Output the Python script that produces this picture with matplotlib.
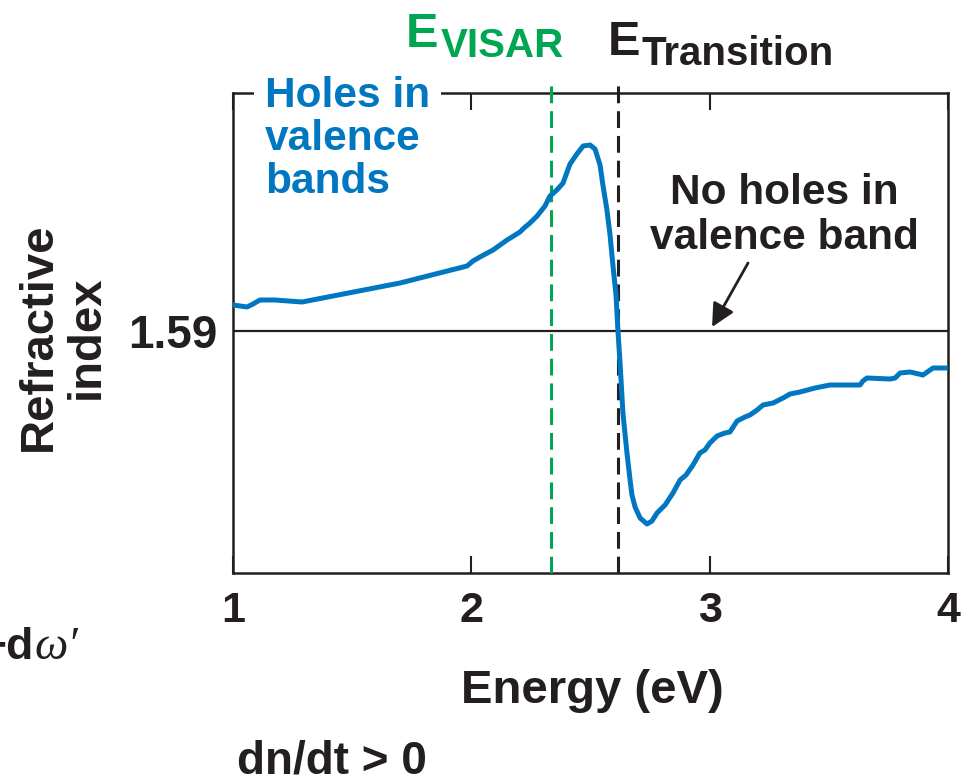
import matplotlib
matplotlib.use("Agg")
import matplotlib.pyplot as plt

# refractive index vs photon energy
energy = [1.000, 1.059, 1.084, 1.113, 1.176, 1.290, 1.701, 1.982, 2.007, 2.036,
          2.091, 2.150, 2.204, 2.221, 2.246, 2.276, 2.309, 2.330, 2.359, 2.385,
          2.397, 2.414, 2.443, 2.469, 2.498, 2.519, 2.540, 2.552, 2.569, 2.582,
          2.594, 2.607, 2.615, 2.624, 2.636, 2.653, 2.666, 2.674, 2.687, 2.708,
          2.737, 2.758, 2.779, 2.813, 2.846, 2.876, 2.901, 2.930, 2.959, 2.980,
          3.001, 3.031, 3.064, 3.085, 3.115, 3.148, 3.169, 3.199, 3.224, 3.266,
          3.308, 3.337, 3.379, 3.442, 3.505, 3.631, 3.643, 3.660, 3.757, 3.778,
          3.799, 3.841, 3.895, 3.937, 4.000]
n_index = [1.5926, 1.5924, 1.5927, 1.5931, 1.5931, 1.5929, 1.5948, 1.5965, 1.5970, 1.5974,
           1.5981, 1.5991, 1.5999, 1.6003, 1.6008, 1.6015, 1.6025, 1.6035, 1.6041, 1.6048,
           1.6056, 1.6067, 1.6077, 1.6085, 1.6086, 1.6082, 1.6066, 1.6046, 1.6021, 1.5996,
           1.5966, 1.5936, 1.5901, 1.5868, 1.5818, 1.5778, 1.5751, 1.5736, 1.5724, 1.5713,
           1.5707, 1.5710, 1.5718, 1.5726, 1.5738, 1.5751, 1.5756, 1.5766, 1.5778, 1.5781,
           1.5788, 1.5795, 1.5798, 1.5799, 1.5810, 1.5814, 1.5816, 1.5821, 1.5826, 1.5828,
           1.5833, 1.5837, 1.5839, 1.5843, 1.5846, 1.5846, 1.5850, 1.5853, 1.5852, 1.5853,
           1.5858, 1.5859, 1.5856, 1.5863, 1.5863]

n_ref = 1.59
e_visar = 2.334
e_transition = 2.615
x_ticks = [1, 2, 3, 4]

BLUE = "#0077c0"
GREEN = "#00a651"
DARK = "#231f20"
FONT = ["Liberation Sans", "DejaVu Sans"]
NARROW = ["Liberation Sans Narrow", "Liberation Sans", "DejaVu Sans"]

W, H = 973, 784
fig = plt.figure(figsize=(W / 100, H / 100), dpi=100)
ax = fig.add_axes([233 / W, 1 - 573 / H, (948 - 233) / W, (573 - 93) / H])


def px(x, y):
    # figure pixel (from top-left) -> figure fraction
    return x / W, 1 - y / H


ax.set_xlim(1, 4)
ax.set_ylim(1.5658, 1.6138)

for s in ax.spines.values():
    s.set_color(DARK)
    s.set_linewidth(1.8)

ax.axhline(n_ref, color=DARK, lw=1.6, zorder=2)
ax.plot(energy, n_index, color=BLUE, lw=3.6, solid_joinstyle="round", zorder=4)

top_ext = 1.6146
ax.plot([e_visar, e_visar], [1.5658, top_ext], color=GREEN, lw=2.2,
        dashes=(5.5, 2.6), clip_on=False, zorder=3)
ax.plot([e_transition, e_transition], [1.5658, top_ext], color=DARK, lw=2.2,
        dashes=(5.5, 2.6), clip_on=False, zorder=3)

ax.set_xticks(x_ticks)
ax.set_xticklabels([str(t) for t in x_ticks], family=NARROW, fontweight="bold",
                   fontsize=31, color=DARK)
ax.tick_params(axis="x", direction="in", length=12, width=1.5, color=DARK,
               top=True, pad=13)
ax.set_yticks([n_ref])
ax.set_yticklabels(["1.59"], family=FONT, fontweight="bold", fontsize=33, color=DARK)
ax.tick_params(axis="y", length=0, pad=11)

# axis titles
fig.text(*px(63, 337), "Refractive\nindex", rotation=90, ha="center", va="center",
         family=FONT, fontweight="bold", fontsize=34, color=DARK, linespacing=1.1)
fig.text(*px(592, 703), "Energy (eV)", ha="center", va="baseline",
         family=NARROW, fontweight="bold", fontsize=34, color=DARK)

# energy markers
fig.text(*px(406, 47), "E", ha="left", va="baseline", family=FONT,
         fontweight="bold", fontsize=35, color=GREEN)
fig.text(*px(441, 57), "VISAR", ha="left", va="baseline", family=NARROW,
         fontweight="bold", fontsize=29, color=GREEN)
fig.text(*px(608, 55), "E", ha="left", va="baseline", family=FONT,
         fontweight="bold", fontsize=35, color=DARK)
fig.text(*px(642, 65), "Transition", ha="left", va="baseline", family=NARROW,
         fontweight="bold", fontsize=29, color=DARK)

# region labels
ax.text(*px(265, 76), "Holes in\nvalence\nbands", transform=fig.transFigure,
        ha="left", va="top", family=FONT, fontweight="bold", fontsize=30.5,
        color=BLUE, linespacing=1.1, zorder=5,
        bbox=dict(facecolor="white", edgecolor="none", pad=8))
ax.text(*px(784, 173), "No holes in\nvalence band", transform=fig.transFigure,
        ha="center", va="top", multialignment="center", family=FONT,
        fontweight="bold", fontsize=30.5, color=DARK, linespacing=1.15, zorder=5)
ax.annotate("", xy=(3.010, 1.5904), xytext=(3.161, 1.5968),
            arrowprops=dict(arrowstyle="-|>,head_length=0.7,head_width=0.35",
                            color=DARK, lw=2, mutation_scale=20,
                            shrinkA=0, shrinkB=0))

# fragments of neighbouring panels
fig.text(*px(-20, 659), "\u2212d", ha="left", va="baseline", family=FONT,
         fontweight="bold", fontsize=32, color=DARK)
fig.text(*px(34, 659), "\u03c9\u2032", ha="left", va="baseline",
         family=["Liberation Serif", "DejaVu Serif"], style="italic",
         fontsize=34, color=DARK)
fig.text(*px(237, 774), "dn/dt > 0", ha="left", va="baseline", family=NARROW,
         fontweight="bold", fontsize=33, color=DARK)

fig.savefig("out.png", dpi=100)
